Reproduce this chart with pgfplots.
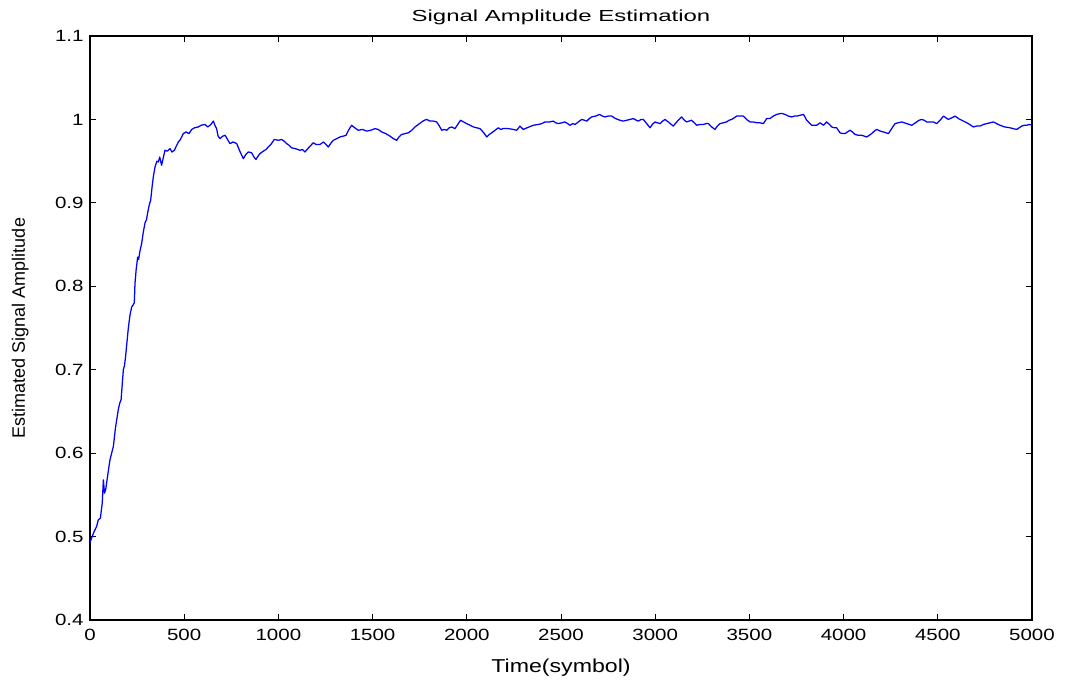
\documentclass[border=0pt]{standalone}
\usepackage{fontspec}
\setmainfont{Liberation Sans}
\newfontfamily\tickfont[FakeStretch=1.26]{Liberation Sans}
\newfontfamily\xlabfont[FakeStretch=1.24]{Liberation Sans}
\newfontfamily\titlefont[FakeStretch=1.5]{Liberation Sans}
\usepackage{pgfplots}
\pgfplotsset{compat=1.18}
\usepackage{pgfplotstable}
\pgfplotstableread{
t v
0 0.493
5 0.496
20 0.505
35 0.512
44 0.520
55 0.522
65 0.540
71 0.568
77 0.552
83 0.556
95 0.575
106 0.592
115 0.600
124 0.608
135 0.630
150 0.652
158 0.660
165 0.664
177 0.700
183 0.705
189 0.716
197 0.735
204 0.751
212 0.765
221 0.775
230 0.778
235 0.780
239 0.804
245 0.820
253 0.835
258 0.832
265 0.842
274 0.851
283 0.865
292 0.876
300 0.880
306 0.888
315 0.898
322 0.903
330 0.920
336 0.931
345 0.943
355 0.950
363 0.949
370 0.955
380 0.945
390 0.955
398 0.963
410 0.962
425 0.965
435 0.961
448 0.963
458 0.968
469 0.973
480 0.976
495 0.983
510 0.985
525 0.983
540 0.988
555 0.990
575 0.991
590 0.993
610 0.994
625 0.991
637 0.993
645 0.995
655 0.998
663 0.993
672 0.989
680 0.980
690 0.977
705 0.980
717 0.981
730 0.976
743 0.971
760 0.973
779 0.971
795 0.962
814 0.953
827 0.958
840 0.961
858 0.960
870 0.955
881 0.952
892 0.956
902 0.959
920 0.962
935 0.964
946 0.967
960 0.970
978 0.976
1000 0.975
1017 0.976
1030 0.974
1044 0.971
1057 0.969
1070 0.966
1090 0.965
1115 0.963
1128 0.964
1141 0.961
1160 0.966
1185 0.972
1200 0.970
1221 0.970
1239 0.973
1252 0.970
1265 0.967
1280 0.972
1292 0.975
1310 0.977
1327 0.979
1345 0.980
1359 0.981
1372 0.987
1389 0.993
1405 0.990
1424 0.987
1445 0.988
1469 0.986
1490 0.987
1513 0.989
1530 0.988
1548 0.985
1570 0.983
1592 0.980
1610 0.977
1628 0.975
1640 0.979
1654 0.982
1672 0.983
1690 0.984
1708 0.987
1725 0.991
1743 0.994
1761 0.997
1775 0.999
1787 1.000
1805 0.998
1822 0.998
1840 0.997
1852 0.993
1867 0.987
1880 0.988
1893 0.987
1907 0.990
1920 0.991
1937 0.989
1952 0.994
1967 0.999
1983 0.997
1999 0.995
2017 0.993
2035 0.991
2052 0.990
2070 0.989
2090 0.984
2106 0.979
2120 0.982
2132 0.984
2150 0.987
2167 0.990
2180 0.988
2193 0.989
2220 0.989
2247 0.988
2265 0.987
2282 0.992
2300 0.988
2320 0.990
2353 0.993
2380 0.994
2398 0.995
2415 0.997
2440 0.997
2459 0.998
2472 0.996
2486 0.995
2505 0.996
2521 0.997
2535 0.995
2548 0.993
2562 0.995
2575 0.994
2592 0.997
2610 1.000
2625 0.999
2637 0.998
2650 1.001
2663 1.003
2684 1.004
2704 1.006
2720 1.004
2734 1.003
2750 1.004
2769 1.004
2790 1.001
2813 0.999
2830 0.998
2849 0.999
2866 1.000
2884 1.001
2900 0.999
2911 0.998
2925 1.000
2937 1.000
2955 0.995
2973 0.990
2985 0.994
2999 0.997
3012 0.996
3026 0.995
3040 0.998
3052 1.000
3075 0.996
3096 0.992
3118 0.998
3140 1.003
3155 0.999
3167 0.997
3180 0.998
3193 0.999
3207 0.996
3220 0.993
3238 0.994
3255 0.994
3270 0.995
3282 0.995
3300 0.991
3317 0.988
3330 0.992
3344 0.995
3362 0.996
3379 0.997
3392 0.999
3406 1.000
3420 1.002
3432 1.004
3450 1.004
3468 1.004
3485 1.000
3503 0.997
3520 0.997
3539 0.996
3555 0.996
3574 0.995
3592 1.001
3609 1.001
3627 1.004
3645 1.006
3663 1.007
3675 1.007
3689 1.006
3707 1.004
3725 1.003
3738 1.004
3751 1.004
3770 1.005
3787 1.006
3795 1.003
3804 0.999
3818 0.996
3831 0.993
3845 0.993
3857 0.993
3875 0.996
3893 0.993
3910 0.997
3925 0.994
3937 0.991
3950 0.990
3963 0.990
3972 0.987
3981 0.984
3995 0.983
4008 0.983
4020 0.985
4034 0.987
4047 0.985
4061 0.982
4078 0.981
4096 0.981
4110 0.980
4123 0.979
4136 0.981
4149 0.983
4163 0.986
4176 0.988
4195 0.986
4211 0.985
4225 0.984
4238 0.983
4255 0.989
4273 0.995
4290 0.996
4309 0.997
4322 0.996
4335 0.995
4348 0.994
4362 0.993
4375 0.995
4388 0.997
4400 0.999
4415 1.000
4428 0.999
4441 0.997
4460 0.997
4477 0.997
4494 0.995
4512 0.999
4530 1.004
4543 1.002
4556 1.000
4575 1.002
4592 1.004
4610 1.001
4627 0.999
4645 0.997
4662 0.995
4675 0.993
4689 0.991
4705 0.992
4724 0.992
4742 0.994
4760 0.995
4778 0.996
4795 0.997
4812 0.995
4830 0.993
4855 0.991
4883 0.990
4900 0.989
4919 0.988
4932 0.990
4945 0.992
4960 0.993
4972 0.993
4985 0.994
5000 0.993
}\amp
\begin{document}
\begin{tikzpicture}
\useasboundingbox (-67.5pt,-45.75pt) rectangle (733.5pt,465pt);
\begin{axis}[
  at={(0,0)}, anchor=south west,
  scale only axis,
  width=706.5pt, height=438pt,
  xmin=0, xmax=5000, ymin=0.4, ymax=1.1,
  xtick={0,500,...,5000},
  ytick={0.4,0.5,...,1.1},
  yticklabels={0.4,0.5,0.6,0.7,0.8,0.9,1,1.1},
  scaled x ticks=false,
  /pgf/number format/assume math mode=true,
  xticklabel style={/pgf/number format/.cd,fixed,set thousands separator={}},
  tick align=inside,
  major tick length=4.5pt,
  axis line style={black, line width=0.8pt},
  every tick/.style={black, line width=0.6pt},
  ticklabel style={font=\tickfont\fontsize{12.2}{14}\selectfont},
  title={Signal Amplitude Estimation},
  title style={font=\titlefont\fontsize{12}{14}\selectfont, at={(axis description cs:0.5,1)}, anchor=base, yshift=4.9pt},
  xlabel={Time(symbol)},
  xlabel style={font=\xlabfont\fontsize{14}{16}\selectfont, at={(axis description cs:0.5,0)}, anchor=base, yshift=-39.75pt},
  ylabel={Estimated Signal Amplitude},
  ylabel style={font=\fontsize{13.5}{15}\selectfont, at={(axis description cs:0,0.5)}, anchor=base, yshift=48.75pt},
  xticklabel shift=3.5pt,
  yticklabel shift=1.3pt,
]
\addplot[color={rgb,255:red,0;green,0;blue,255}, line width=0.95pt, line join=round] table[x=t,y=v] {\amp};
\end{axis}
\end{tikzpicture}
\end{document}
